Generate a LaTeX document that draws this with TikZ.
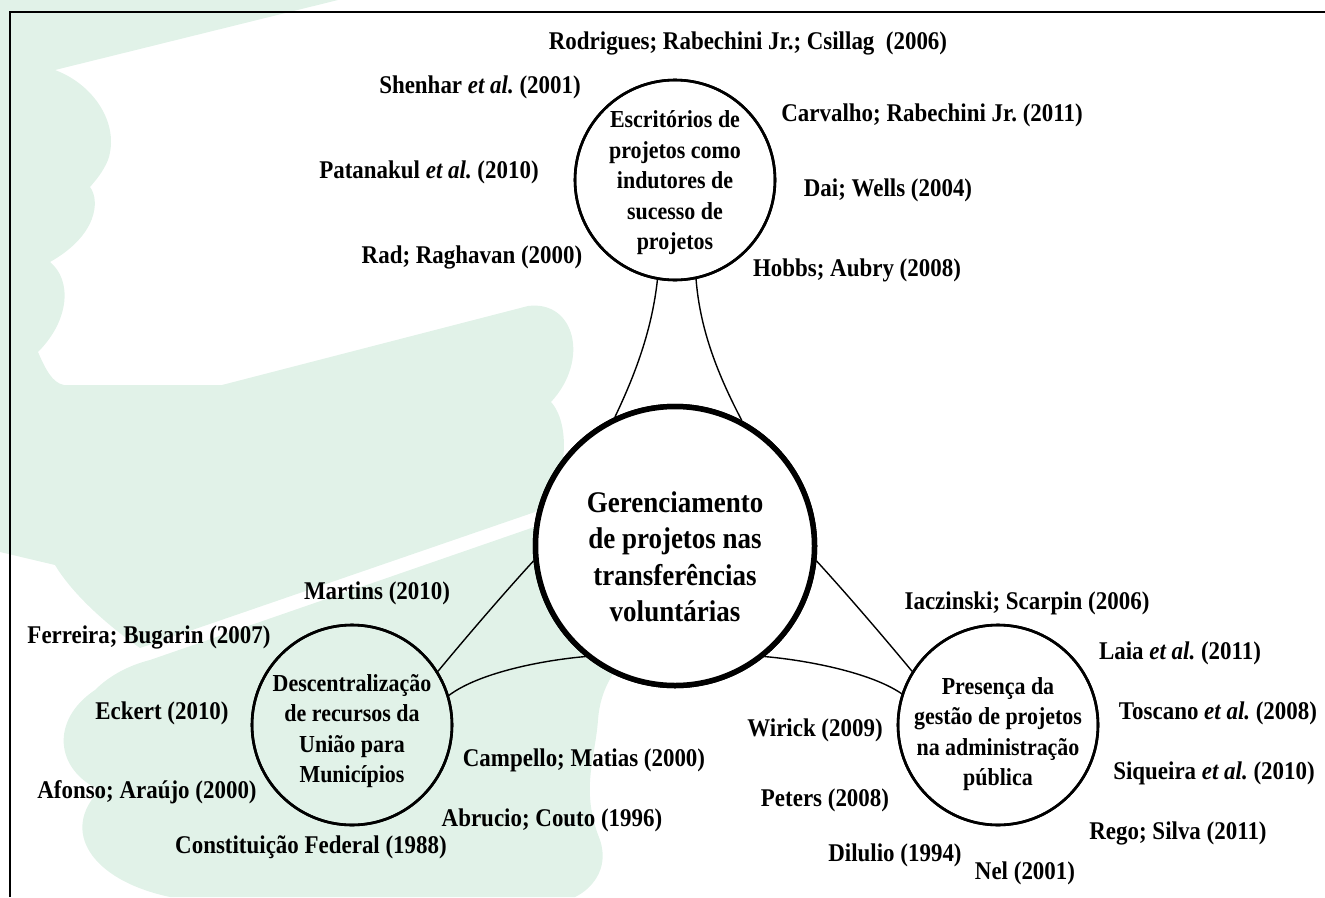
\documentclass[tikz,border=0pt]{standalone}
\usepackage{fontspec}
\setmainfont{Liberation Serif}[FakeStretch=0.9]
\definecolor{wm}{RGB}{225,242,232}
\begin{document}
\begin{tikzpicture}[x=1pt,y=-1pt,
  lab/.style={font=\fontsize{25.5}{29}\selectfont\bfseries, inner sep=0pt},
  smallc/.style={circle, draw, line width=2.6pt, minimum size=200pt, inner sep=0pt},
  bigc/.style={circle, draw, line width=5.5pt, fill=white, minimum size=279pt, inner sep=0pt},
  ctxt/.style={font=\fontsize{24.4}{30.5}\selectfont\bfseries, align=center, inner sep=0pt},
  btxt/.style={font=\fontsize{30}{36.5}\selectfont\bfseries, align=center, inner sep=0pt},
  conn/.style={line width=1.4pt},
  frame/.style={line width=2.8pt}]
\useasboundingbox (0,0) rectangle (1325,897);
% watermark
\fill[wm] (0,0) -- (338,0) -- (55,70)
 .. controls (95,85) and (120,125) .. (108,160)
 .. controls (103,172) and (96,180) .. (90,187)
 .. controls (100,200) and (98,235) .. (50,262)
 .. controls (72,280) and (70,320) .. (38,352)
 .. controls (45,368) and (52,383) .. (64,385)
 -- (222,385) -- (528,306)
 .. controls (575,300) and (590,360) .. (551,402)
 .. controls (572,425) and (568,490) .. (535,512)
 -- (140,648)
 .. controls (100,620) and (70,590) .. (55,565)
 -- (0,552) -- cycle;
\fill[wm] (150,660) -- (540,525) -- (650,520) -- (650,640)
 .. controls (615,660) and (600,690) .. (598,720)
 .. controls (595,760) and (580,790) .. (600,840)
 .. controls (610,870) and (590,890) .. (575,897)
 -- (170,897)
 .. controls (90,880) and (60,830) .. (100,790)
 .. controls (55,770) and (50,720) .. (95,690)
 .. controls (110,675) and (130,665) .. (150,660) -- cycle;
% frame
\draw[frame] (10,897) -- (10,12) -- (1325,12);
% circles
\node[smallc] (top) at (675,180) {};
\node[bigc] (ctr) at (675,546) {};
\node[smallc] (lft) at (352,725) {};
\node[smallc] (rgt) at (998,725) {};
% connectors
\draw[conn] (top.260) .. controls (652,330) and (635,375) .. (ctr.115.8);
\draw[conn] (top.-78) .. controls (700,330) and (718,375) .. (ctr.62.7);
\draw[conn] (ctr.186.8) .. controls (505,592) and (468,635) .. (lft.32);
\draw[conn] (ctr.231.8) .. controls (545,660) and (480,672) .. (lft.17.7);
\draw[conn] (ctr.-6.8) .. controls (845,592) and (882,635) .. (rgt.148);
\draw[conn] (ctr.-51.8) .. controls (805,660) and (870,672) .. (rgt.162.3);
% redraw circles on top of connectors
\node[smallc] at (top) {};
\node[bigc] at (ctr) {};
\node[smallc] at (lft) {};
\node[smallc] at (rgt) {};
% circle texts
\node[ctxt] (toptxt) at (675,183) {Escritórios de\\projetos como\\indutores de\\sucesso de\\projetos};
\node[btxt] (ctrtxt) at (675,557) {Gerenciamento\\de projetos nas\\transferências\\voluntárias};
\node[ctxt] (lfttxt) at (352,731) {Descentralização\\de recursos da\\União para\\Municípios};
\node[ctxt] (rgttxt) at (998,734) {Presença da\\gestão de projetos\\na administração\\pública};
% labels
\node[lab] (l1) at (748,43) {Rodrigues; Rabechini Jr.; Csillag\ \ (2006)};
\node[lab] (l2) at (480,87) {Shenhar \textit{et al.}\ (2001)};
\node[lab] (l3) at (429,172) {Patanakul \textit{et al.}\ (2010)};
\node[lab] (l4) at (472,257) {Rad; Raghavan (2000)};
\node[lab] (l5) at (932,115) {Carvalho; Rabechini Jr.\ (2011)};
\node[lab] (l6) at (888,190) {Dai; Wells (2004)};
\node[lab] (l7) at (857,270) {Hobbs; Aubry (2008)};
\node[lab] (l8) at (377,593) {Martins (2010)};
\node[lab] (l9) at (149,637) {Ferreira; Bugarin (2007)};
\node[lab] (l10) at (162,713) {Eckert (2010)};
\node[lab] (l11) at (147,792) {Afonso; Araújo (2000)};
\node[lab] (l12) at (311,847) {Constituição Federal (1988)};
\node[lab] (l13) at (584,760) {Campello; Matias (2000)};
\node[lab] (l14) at (552,820) {Abrucio; Couto (1996)};
\node[lab] (l15) at (815,730) {Wirick (2009)};
\node[lab] (l16) at (825,800) {Peters (2008)};
\node[lab] (l17) at (895,855) {Dilulio (1994)};
\node[lab] (l18) at (1025,873) {Nel (2001)};
\node[lab] (l19) at (1027,603) {Iaczinski; Scarpin (2006)};
\node[lab] (l20) at (1180,653) {Laia \textit{et al.}\ (2011)};
\node[lab] (l21) at (1218,713) {Toscano \textit{et al.}\ (2008)};
\node[lab] (l22) at (1214,773) {Siqueira \textit{et al.}\ (2010)};
\node[lab] (l23) at (1178,833) {Rego; Silva (2011)};
\end{tikzpicture}
\end{document}
